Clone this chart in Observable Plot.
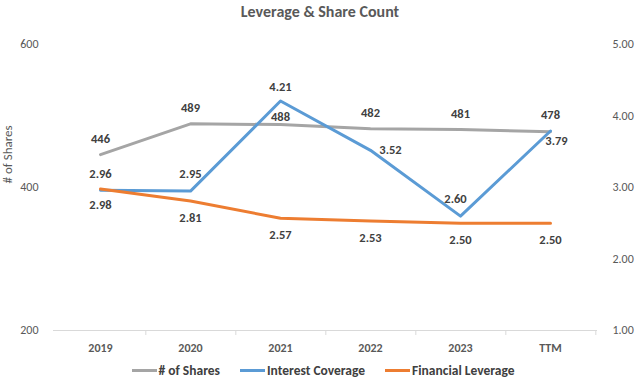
<!DOCTYPE html>
<html>
<head>
<meta charset="utf-8">
<script src="https://cdn.jsdelivr.net/npm/d3@7"></script>
<script src="https://cdn.jsdelivr.net/npm/@observablehq/plot@0.6"></script>
<style>
  html, body { margin: 0; padding: 0; background: #fff; }
  body { width: 640px; height: 382px; overflow: hidden; font-family: Carlito, Calibri, Lato, "Open Sans", sans-serif; }
  #title { height: 26px; line-height: 24px; text-align: center; font-size: 16px; font-weight: bold; color: #595959; }
  #chart svg { display: block; }
  #legend { height: 24px; display: flex; justify-content: center; align-items: center; gap: 20px; font-size: 13.5px; font-weight: bold; color: #404040; padding-left: 6px; }
  .item { display: flex; align-items: center; gap: 2px; }
  .sw { width: 25px; height: 3px; display: inline-block; }
</style>
</head>
<body>
<div id="title">Leverage &amp; Share Count</div>
<div id="chart"></div>
<div id="legend"></div>
<script>
// ---- data ----
const years = ["2019", "2020", "2021", "2022", "2023", "TTM"];
const shares = [446, 489, 488, 482, 481, 478];
const interestCoverage = [2.96, 2.95, 4.21, 3.52, 2.60, 3.79];
const financialLeverage = [2.98, 2.81, 2.57, 2.53, 2.50, 2.50];
const leftTicks = [200, 400, 600];
const rightTicks = [1, 2, 3, 4, 5];
const seriesNames = ["# of Shares", "Interest Coverage", "Financial Leverage"];

// ---- styling / layout ----
const colors = ["#A5A5A5", "#5B9BD5", "#ED7D31"];
const font = "Carlito, Calibri, Lato, 'Open Sans', sans-serif";
const labelOffsets = [
  [[0,-16],[0,-16],[0,-8],[0,-16],[0,-16],[0,-17]],
  [[0,-16],[0,-17],[0,-14],[20,0],[-5,-17],[6,10]],
  [[0,16],[0,17],[0,17],[0,17],[0,17],[0,17]]
];

// right axis (1..5) mapped onto left axis domain (200..600)
const toLeft = v => 200 + (v - 1) * 100;

const rows = (vals, s) => vals.map((v, i) => ({year: years[i], value: v, y: s === 0 ? v : toLeft(v), i}));
const series = [rows(shares, 0), rows(interestCoverage, 1), rows(financialLeverage, 2)];
const fmt = [d => String(d), d => d.toFixed(2), d => d.toFixed(2)];

const W = 640, H = 332, mL = 53, mR = 43;
const step = (W - mL - mR) / years.length;

const labelMarks = [];
series.forEach((rs, s) => {
  rs.forEach((r, i) => {
    const [dx, dy] = labelOffsets[s][i];
    labelMarks.push(Plot.text([r], {x: "year", y: "y", text: d => fmt[s](d.value), dx, dy,
      fill: "#404040", fontWeight: "bold", fontSize: 12.5}));
  });
});

const chart = Plot.plot({
  width: W,
  height: H,
  marginTop: 18,
  marginBottom: 28,
  marginLeft: mL,
  marginRight: mR,
  style: {fontFamily: font, background: "#fff"},
  x: {type: "point", domain: years, padding: 0.5},
  y: {domain: [200, 600]},
  marks: [
    Plot.ruleY([200], {stroke: "#d9d9d9", strokeWidth: 1}),
    Plot.axisX({tickSize: 0, tickPadding: 13, fontSize: 12, fontWeight: "bold", fill: "#595959", label: null}),
    Plot.axisX({tickSize: 5, tickFormat: () => "", stroke: "#d9d9d9", dx: step / 2, label: null}),
    Plot.axisY({ticks: leftTicks, tickSize: 0, tickPadding: 15, fontSize: 12, fill: "#595959", label: null}),
    Plot.axisY({anchor: "right", ticks: rightTicks.map(toLeft), tickFormat: d => ((d - 200) / 100 + 1).toFixed(2),
      tickSize: 0, tickPadding: 15, fontSize: 12, fill: "#595959", textAnchor: "start", label: null}),
    Plot.text(["# of Shares"], {frameAnchor: "left", dx: -46, dy: -4, rotate: -90, fill: "#595959", fontSize: 13}),
    ...series.map((rs, s) => Plot.line(rs, {x: "year", y: "y", stroke: colors[s], strokeWidth: 3, strokeLinejoin: "round"})),
    ...labelMarks
  ]
});
document.getElementById("chart").appendChild(chart);

const legend = document.getElementById("legend");
seriesNames.forEach((n, s) => {
  const it = document.createElement("div");
  it.className = "item";
  const sw = document.createElement("span");
  sw.className = "sw";
  sw.style.background = colors[s];
  const t = document.createElement("span");
  t.textContent = n;
  it.appendChild(sw); it.appendChild(t);
  legend.appendChild(it);
});
</script>
</body>
</html>
